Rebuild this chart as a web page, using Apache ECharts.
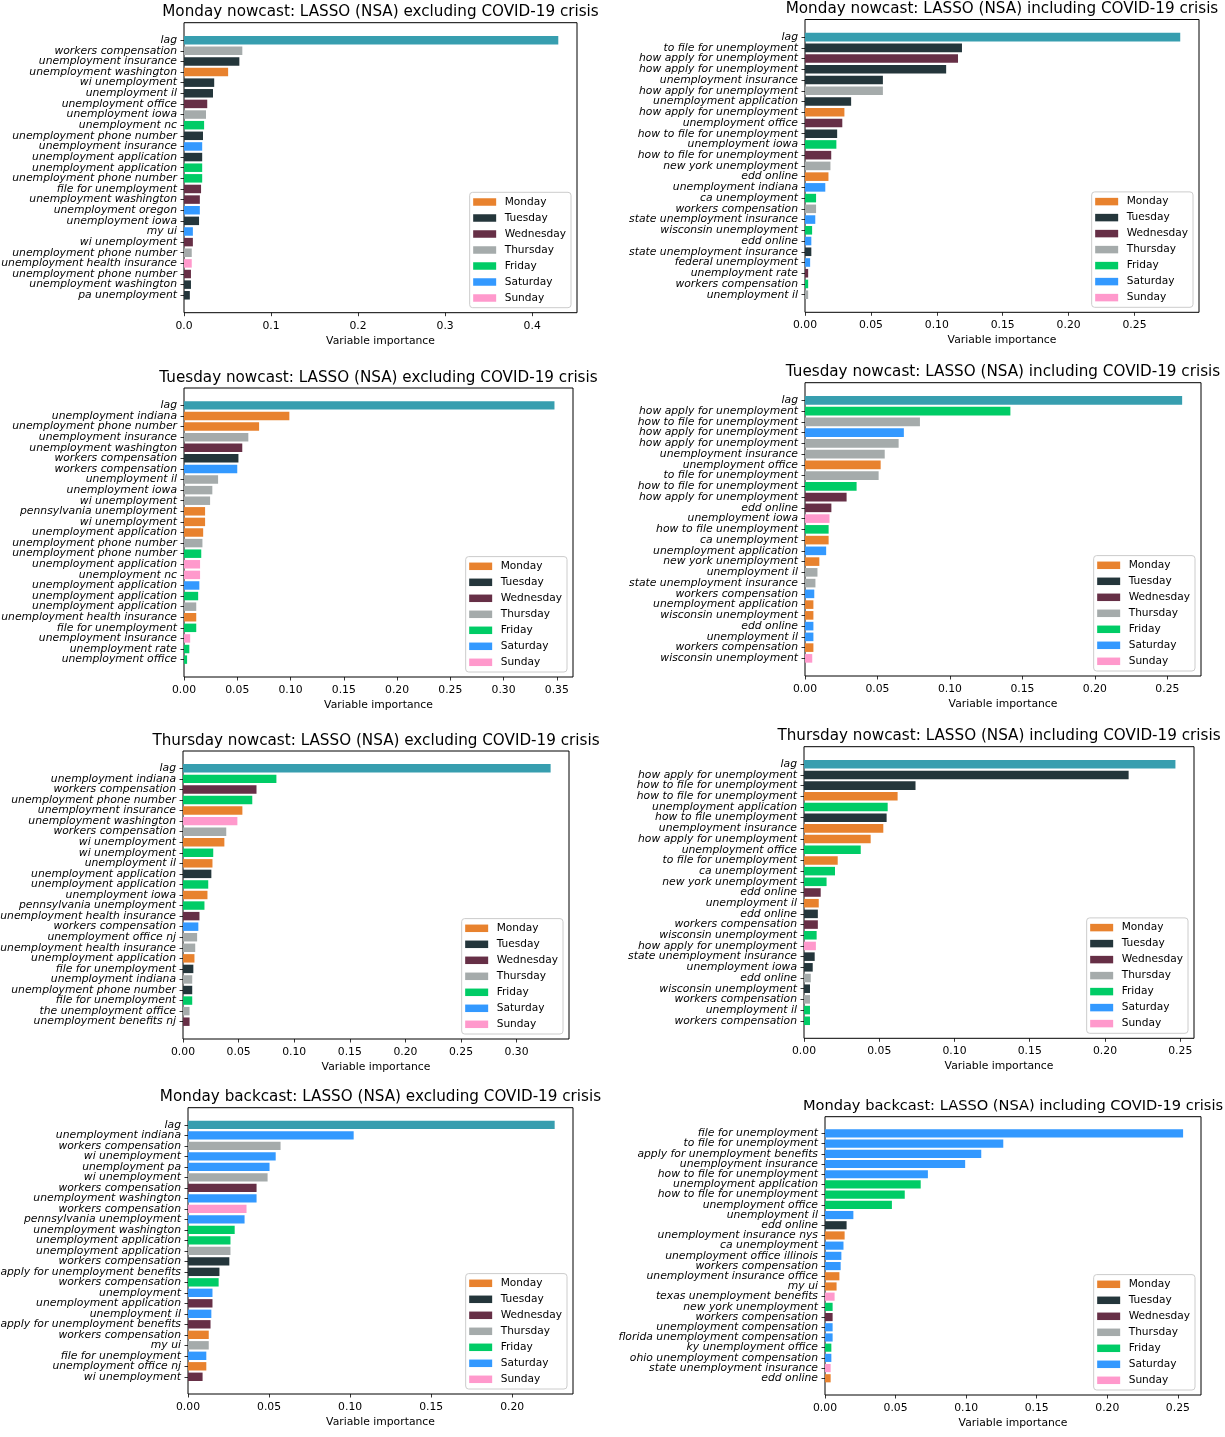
<!DOCTYPE html>
<html>
<head>
<meta charset="utf-8">
<script src="https://cdn.jsdelivr.net/npm/echarts@6/dist/echarts.min.js"></script>
<style>
  html, body { margin: 0; padding: 0; background: #ffffff; }
  #chart { width: 1225px; height: 1437px; }
</style>
</head>
<body>
<div id="chart"></div>
<script>
// ---- Variable importance data (search terms, importance, weekday of the term) ----

const mondayNowExTerms = ['lag', 'workers compensation', 'unemployment insurance', 'unemployment washington', 'wi unemployment', 'unemployment il', 'unemployment office', 'unemployment iowa', 'unemployment nc', 'unemployment phone number', 'unemployment insurance', 'unemployment application', 'unemployment application', 'unemployment phone number', 'file for unemployment', 'unemployment washington', 'unemployment oregon', 'unemployment iowa', 'my ui', 'wi unemployment', 'unemployment phone number', 'unemployment health insurance', 'unemployment phone number', 'unemployment washington', 'pa unemployment'];
const mondayNowExValues = [0.430, 0.067, 0.0636, 0.0507, 0.0347, 0.0333, 0.0267, 0.0253, 0.0231, 0.0218, 0.0209, 0.0209, 0.0209, 0.0209, 0.0196, 0.0182, 0.0182, 0.0173, 0.0102, 0.0102, 0.0089, 0.0089, 0.008, 0.008, 0.0067];
const mondayNowExDays = ['lag', 'Thu', 'Tue', 'Mon', 'Tue', 'Tue', 'Wed', 'Thu', 'Fri', 'Tue', 'Sat', 'Tue', 'Fri', 'Fri', 'Wed', 'Wed', 'Sat', 'Tue', 'Sat', 'Wed', 'Thu', 'Sun', 'Wed', 'Tue', 'Tue'];

const mondayNowInTerms = ['lag', 'to file for unemployment', 'how apply for unemployment', 'how apply for unemployment', 'unemployment insurance', 'how apply for unemployment', 'unemployment application', 'how apply for unemployment', 'unemployment office', 'how to file for unemployment', 'unemployment iowa', 'how to file for unemployment', 'new york unemployment', 'edd online', 'unemployment indiana', 'ca unemployment', 'workers compensation', 'state unemployment insurance', 'wisconsin unemployment', 'edd online', 'state unemployment insurance', 'federal unemployment', 'unemployment rate', 'workers compensation', 'unemployment il'];
const mondayNowInValues = [0.2847, 0.1191, 0.1161, 0.1071, 0.0591, 0.0591, 0.035, 0.0299, 0.0283, 0.0244, 0.0238, 0.0199, 0.0193, 0.0178, 0.0154, 0.0084, 0.0084, 0.0078, 0.0054, 0.0048, 0.0048, 0.0039, 0.0024, 0.0024, 0.0024];
const mondayNowInDays = ['lag', 'Tue', 'Wed', 'Tue', 'Tue', 'Thu', 'Tue', 'Mon', 'Wed', 'Tue', 'Fri', 'Wed', 'Thu', 'Mon', 'Sat', 'Fri', 'Thu', 'Sat', 'Fri', 'Sat', 'Tue', 'Sat', 'Wed', 'Fri', 'Thu'];

const tuesdayNowExTerms = ['lag', 'unemployment indiana', 'unemployment phone number', 'unemployment insurance', 'unemployment washington', 'workers compensation', 'workers compensation', 'unemployment il', 'unemployment iowa', 'wi unemployment', 'pennsylvania unemployment', 'wi unemployment', 'unemployment application', 'unemployment phone number', 'unemployment phone number', 'unemployment application', 'unemployment nc', 'unemployment application', 'unemployment application', 'unemployment application', 'unemployment health insurance', 'file for unemployment', 'unemployment insurance', 'unemployment rate', 'unemployment office'];
const tuesdayNowExValues = [0.3478, 0.0989, 0.0705, 0.0604, 0.0547, 0.0511, 0.050, 0.032, 0.0266, 0.0245, 0.0198, 0.0198, 0.018, 0.0173, 0.0162, 0.0151, 0.0151, 0.0144, 0.0133, 0.0115, 0.0115, 0.0115, 0.0058, 0.005, 0.0029];
const tuesdayNowExDays = ['lag', 'Mon', 'Mon', 'Thu', 'Wed', 'Tue', 'Sat', 'Thu', 'Thu', 'Thu', 'Mon', 'Mon', 'Mon', 'Thu', 'Fri', 'Sun', 'Sun', 'Sat', 'Fri', 'Thu', 'Mon', 'Fri', 'Sun', 'Fri', 'Fri'];

const tuesdayNowInTerms = ['lag', 'how apply for unemployment', 'how to file for unemployment', 'how apply for unemployment', 'how apply for unemployment', 'unemployment insurance', 'unemployment office', 'to file for unemployment', 'how to file for unemployment', 'how apply for unemployment', 'edd online', 'unemployment iowa', 'how to file unemployment', 'ca unemployment', 'unemployment application', 'new york unemployment', 'unemployment il', 'state unemployment insurance', 'workers compensation', 'unemployment application', 'wisconsin unemployment', 'edd online', 'unemployment il', 'workers compensation', 'wisconsin unemployment'];
const tuesdayNowInValues = [0.2602, 0.1417, 0.0793, 0.0682, 0.0646, 0.055, 0.0522, 0.0508, 0.0356, 0.0287, 0.0182, 0.0169, 0.0163, 0.0163, 0.0146, 0.0099, 0.0086, 0.0072, 0.0064, 0.0058, 0.0058, 0.0058, 0.0058, 0.0058, 0.005];
const tuesdayNowInDays = ['lag', 'Fri', 'Thu', 'Sat', 'Thu', 'Thu', 'Mon', 'Thu', 'Fri', 'Wed', 'Wed', 'Sun', 'Fri', 'Mon', 'Sat', 'Mon', 'Thu', 'Thu', 'Sat', 'Mon', 'Mon', 'Sat', 'Sat', 'Mon', 'Sun'];

const thursdayNowExTerms = ['lag', 'unemployment indiana', 'workers compensation', 'unemployment phone number', 'unemployment insurance', 'unemployment washington', 'workers compensation', 'wi unemployment', 'wi unemployment', 'unemployment il', 'unemployment application', 'unemployment application', 'unemployment iowa', 'pennsylvania unemployment', 'unemployment health insurance', 'workers compensation', 'unemployment office nj', 'unemployment health insurance', 'unemployment application', 'file for unemployment', 'unemployment indiana', 'unemployment phone number', 'file for unemployment', 'the unemployment office', 'unemployment benefits nj'];
const thursdayNowExValues = [0.3306, 0.084, 0.0661, 0.0623, 0.0534, 0.0489, 0.0389, 0.0372, 0.0272, 0.0265, 0.0255, 0.0227, 0.022, 0.0193, 0.0148, 0.0138, 0.0127, 0.011, 0.0103, 0.0093, 0.0083, 0.0083, 0.0083, 0.0059, 0.0059];
const thursdayNowExDays = ['lag', 'Fri', 'Wed', 'Fri', 'Mon', 'Sun', 'Thu', 'Mon', 'Fri', 'Mon', 'Tue', 'Fri', 'Mon', 'Fri', 'Wed', 'Sat', 'Thu', 'Thu', 'Mon', 'Tue', 'Thu', 'Tue', 'Fri', 'Thu', 'Wed'];

const thursdayNowInTerms = ['lag', 'how apply for unemployment', 'how to file for unemployment', 'how to file for unemployment', 'unemployment application', 'how to file unemployment', 'unemployment insurance', 'how apply for unemployment', 'unemployment office', 'to file for unemployment', 'ca unemployment', 'new york unemployment', 'edd online', 'unemployment il', 'edd online', 'workers compensation', 'wisconsin unemployment', 'how apply for unemployment', 'state unemployment insurance', 'unemployment iowa', 'edd online', 'wisconsin unemployment', 'workers compensation', 'unemployment il', 'workers compensation'];
const thursdayNowInValues = [0.2468, 0.2157, 0.0741, 0.0622, 0.0556, 0.0549, 0.0527, 0.0443, 0.0377, 0.0224, 0.0206, 0.015, 0.0111, 0.0098, 0.0092, 0.0092, 0.0084, 0.0079, 0.0071, 0.0058, 0.0045, 0.004, 0.004, 0.004, 0.004];
const thursdayNowInDays = ['lag', 'Tue', 'Tue', 'Mon', 'Fri', 'Tue', 'Mon', 'Mon', 'Fri', 'Mon', 'Fri', 'Fri', 'Wed', 'Mon', 'Tue', 'Wed', 'Fri', 'Sun', 'Tue', 'Tue', 'Thu', 'Tue', 'Thu', 'Fri', 'Fri'];

const mondayBackExTerms = ['lag', 'unemployment indiana', 'workers compensation', 'wi unemployment', 'unemployment pa', 'wi unemployment', 'workers compensation', 'unemployment washington', 'workers compensation', 'pennsylvania unemployment', 'unemployment washington', 'unemployment application', 'unemployment application', 'workers compensation', 'apply for unemployment benefits', 'workers compensation', 'unemployment', 'unemployment application', 'unemployment il', 'apply for unemployment benefits', 'workers compensation', 'my ui', 'file for unemployment', 'unemployment office nj', 'wi unemployment'];
const mondayBackExValues = [0.2262, 0.1022, 0.0571, 0.0541, 0.0503, 0.0491, 0.0423, 0.0423, 0.0361, 0.0349, 0.0288, 0.0262, 0.0262, 0.0255, 0.0194, 0.0189, 0.0151, 0.0151, 0.0144, 0.0139, 0.0128, 0.0128, 0.0113, 0.0113, 0.009];
const mondayBackExDays = ['lag', 'Sat', 'Thu', 'Sat', 'Sat', 'Thu', 'Wed', 'Sat', 'Sun', 'Sat', 'Fri', 'Fri', 'Thu', 'Tue', 'Tue', 'Fri', 'Sat', 'Wed', 'Sat', 'Wed', 'Mon', 'Thu', 'Sat', 'Mon', 'Wed'];

const mondayBackInTerms = ['file for unemployment', 'to file for unemployment', 'apply for unemployment benefits', 'unemployment insurance', 'how to file for unemployment', 'unemployment application', 'how to file for unemployment', 'unemployment office', 'unemployment il', 'edd online', 'unemployment insurance nys', 'ca unemployment', 'unemployment office illinois', 'workers compensation', 'unemployment insurance office', 'my ui', 'texas unemployment benefits', 'new york unemployment', 'workers compensation', 'unemployment compensation', 'florida unemployment compensation', 'ky unemployment office', 'ohio unemployment compensation', 'state unemployment insurance', 'edd online'];
const mondayBackInValues = [0.2537, 0.1263, 0.1107, 0.0993, 0.0729, 0.0678, 0.0565, 0.0474, 0.0201, 0.0153, 0.0139, 0.0131, 0.0116, 0.0111, 0.0102, 0.0082, 0.0068, 0.0054, 0.0054, 0.0054, 0.0054, 0.0045, 0.0045, 0.004, 0.004];
const mondayBackInDays = ['Sat', 'Sat', 'Sat', 'Sat', 'Sat', 'Fri', 'Fri', 'Fri', 'Sat', 'Tue', 'Mon', 'Sat', 'Sat', 'Sat', 'Mon', 'Mon', 'Sun', 'Fri', 'Wed', 'Sat', 'Sat', 'Fri', 'Sat', 'Sun', 'Mon'];

// x-axis tick labels of each panel
const ticksTo040 = [0, 0.1, 0.2, 0.3, 0.4];
const ticksTo025 = [0, 0.05, 0.10, 0.15, 0.20, 0.25];
const ticksTo035 = [0, 0.05, 0.10, 0.15, 0.20, 0.25, 0.30, 0.35];
const ticksTo030 = [0, 0.05, 0.10, 0.15, 0.20, 0.25, 0.30];
const ticksTo020 = [0, 0.05, 0.10, 0.15, 0.20];

const legendDays = ['Monday', 'Tuesday', 'Wednesday', 'Thursday', 'Friday', 'Saturday', 'Sunday'];

// ---- Styling ----
const FONT = 'DejaVu Sans';
const dayColors = {
  lag: '#379EAF', Mon: '#E8822E', Tue: '#24363B', Wed: '#662F46',
  Thu: '#A5ABAB', Fri: '#00CC66', Sat: '#3399FF', Sun: '#FF99CC'
};
const dayKey = { Monday: 'Mon', Tuesday: 'Tue', Wednesday: 'Wed', Thursday: 'Thu', Friday: 'Fri', Saturday: 'Sat', Sunday: 'Sun' };

// Panels: data plus the pixel frame of each plot area
const panels = [
  { title: 'Monday nowcast: LASSO (NSA) excluding COVID-19 crisis', terms: mondayNowExTerms, values: mondayNowExValues, days: mondayNowExDays, ticks: ticksTo040, dec: 1,
    titleSize: 15.2, box: { left: 184, top: 22.7, width: 393, height: 290 } },
  { title: 'Monday nowcast: LASSO (NSA) including COVID-19 crisis', terms: mondayNowInTerms, values: mondayNowInValues, days: mondayNowInDays, ticks: ticksTo025, dec: 2,
    titleSize: 15.2, box: { left: 805, top: 19.5, width: 394, height: 292.8 } },
  { title: 'Tuesday nowcast: LASSO (NSA) excluding COVID-19 crisis', terms: tuesdayNowExTerms, values: tuesdayNowExValues, days: tuesdayNowExDays, ticks: ticksTo035, dec: 2,
    titleSize: 15.2, box: { left: 184, top: 388, width: 389, height: 289 } },
  { title: 'Tuesday nowcast: LASSO (NSA) including COVID-19 crisis', terms: tuesdayNowInTerms, values: tuesdayNowInValues, days: tuesdayNowInDays, ticks: ticksTo025, dec: 2,
    titleSize: 15.2, box: { left: 805, top: 382.7, width: 396, height: 293.3 } },
  { title: 'Thursday nowcast: LASSO (NSA) excluding COVID-19 crisis', terms: thursdayNowExTerms, values: thursdayNowExValues, days: thursdayNowExDays, ticks: ticksTo030, dec: 2,
    titleSize: 15.2, box: { left: 183, top: 751, width: 386, height: 288 } },
  { title: 'Thursday nowcast: LASSO (NSA) including COVID-19 crisis', terms: thursdayNowInTerms, values: thursdayNowInValues, days: thursdayNowInDays, ticks: ticksTo025, dec: 2,
    titleSize: 15.2, box: { left: 804, top: 746.7, width: 390, height: 291.6 } },
  { title: 'Monday backcast: LASSO (NSA) excluding COVID-19 crisis', terms: mondayBackExTerms, values: mondayBackExValues, days: mondayBackExDays, ticks: ticksTo020, dec: 2,
    titleSize: 15.2, box: { left: 188, top: 1107.7, width: 385, height: 286.3 } },
  { title: 'Monday backcast: LASSO (NSA) including COVID-19 crisis', terms: mondayBackInTerms, values: mondayBackInValues, days: mondayBackInDays, ticks: ticksTo025, dec: 2,
    titleSize: 14.6, box: { left: 825, top: 1116.7, width: 376, height: 278.3 } }
];

const W = 1225, H = 1437;
const grid = [], xAxis = [], yAxis = [], series = [], title = [], legend = [];

panels.forEach((p, i) => {
  const b = p.box;
  const n = p.terms.length;
  const xmax = Math.max(...p.values) * 1.05;
  // bars occupy 0.8 of a unit; 5% margin of the data span above and below
  const unit = b.height / (1.1 * (n - 0.2));
  const inset = (0.05 * (n - 0.2) - 0.1) * unit;
  const fi = 2 * i, bi = 2 * i + 1;

  // frame grid: box, x ticks and x label
  grid.push({ left: b.left, top: b.top, width: b.width, height: b.height,
    show: true, borderColor: '#000', borderWidth: 1, backgroundColor: 'transparent',
    containLabel: false, outerBoundsMode: 'none' });
  // bar grid: band area inside the frame
  grid.push({ left: b.left, top: b.top + inset, width: b.width, height: b.height - 2 * inset,
    show: false, containLabel: false, outerBoundsMode: 'none' });

  xAxis.push({
    gridIndex: fi, type: 'value', min: 0, max: xmax, position: 'bottom',
    axisLine: { show: false }, splitLine: { show: false },
    axisTick: { show: true, inside: false, length: 3.5, customValues: p.ticks, lineStyle: { color: '#000', width: 0.8 } },
    axisLabel: { show: true, customValues: p.ticks, margin: 7.5, color: '#000', fontFamily: FONT, fontSize: 10.8,
      formatter: v => Number(v).toFixed(p.dec) },
    name: 'Variable importance', nameLocation: 'middle', nameGap: 22.5,
    nameTextStyle: { color: '#000', fontFamily: FONT, fontSize: 10.8 }
  });
  xAxis.push({ gridIndex: bi, type: 'value', min: 0, max: xmax, show: false });

  yAxis.push({ gridIndex: fi, type: 'value', min: 0, max: 1, show: false });
  yAxis.push({
    gridIndex: bi, type: 'category', inverse: true,
    data: p.terms.map((_, k) => String(k)),
    axisLine: { show: false }, splitLine: { show: false },
    axisTick: { show: true, alignWithLabel: true, interval: 0, length: 3.5, lineStyle: { color: '#000', width: 0.8 } },
    axisLabel: { interval: 0, margin: 7, color: '#000', fontFamily: FONT, fontSize: 10.8, fontStyle: 'italic',
      formatter: v => p.terms[Number(v)] }
  });

  series.push({
    type: 'bar', xAxisIndex: bi, yAxisIndex: bi, barWidth: '80%', silent: true,
    data: p.values.map((v, k) => ({ value: v, itemStyle: { color: dayColors[p.days[k]] } }))
  });

  title.push({
    text: p.title, left: b.left + b.width / 2, top: b.top - 11.3 - 6.5, textAlign: 'center', padding: 0,
    textStyle: { fontFamily: FONT, fontSize: p.titleSize, fontWeight: 'normal', color: '#000' }
  });

  legend.push({
    orient: 'vertical', selectedMode: false, data: legendDays, icon: 'rect',
    right: W - (b.left + b.width - 6), bottom: H - (b.top + b.height - 5),
    itemWidth: 23, itemHeight: 7.5, itemGap: 4,
    padding: [3.7, 5, 3.7, 3.5],
    backgroundColor: 'rgba(255,255,255,0.8)', borderColor: '#cccccc', borderWidth: 1, borderRadius: 3,
    textStyle: { fontFamily: FONT, fontSize: 10.6, color: '#000', lineHeight: 12, padding: [0, 0, 0, 3.5] }
  });
});

// hidden grid carrying the weekday series that feed the legends
const hg = grid.length;
grid.push({ left: -20, top: -20, width: 1, height: 1, show: false, containLabel: false, outerBoundsMode: 'none' });
xAxis.push({ gridIndex: hg, type: 'value', show: false });
yAxis.push({ gridIndex: hg, type: 'category', show: false, data: ['x'] });
legendDays.forEach(name => {
  series.push({ type: 'bar', name, xAxisIndex: hg, yAxisIndex: hg, data: [],
    itemStyle: { color: dayColors[dayKey[name]] } });
});

const chart = echarts.init(document.getElementById('chart'), null, { renderer: 'canvas' });
chart.setOption({
  animation: false,
  backgroundColor: '#ffffff',
  textStyle: { fontFamily: FONT },
  title, legend, grid, xAxis, yAxis, series
});
</script>
</body>
</html>
